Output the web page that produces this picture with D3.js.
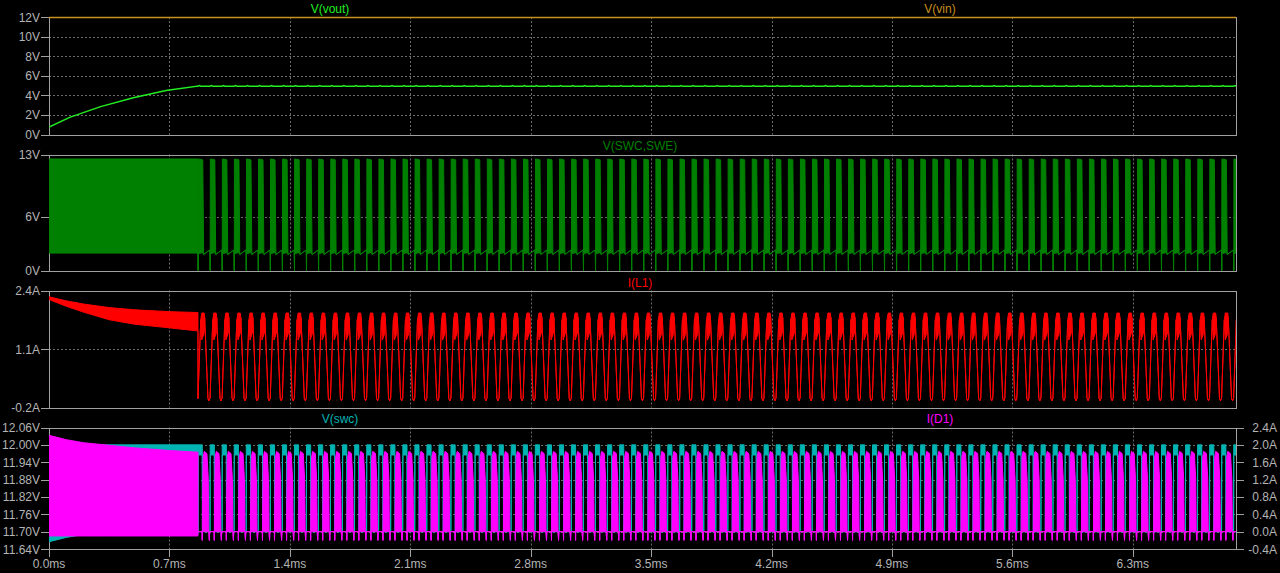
<!DOCTYPE html>
<html>
<head>
<meta charset="utf-8">
<script src="https://cdn.jsdelivr.net/npm/d3@7"></script>
<style>
  html, body { margin: 0; padding: 0; background: #000; }
  svg { display: block; }
  text { font-family: "Liberation Sans", Arial, sans-serif; font-size: 12px; }
</style>
</head>
<body>
<svg id="plot" width="1280" height="573"></svg>
<script>
// ---------- DATA ----------
const timeTicks = [0, 0.7, 1.4, 2.1, 2.8, 3.5, 4.2, 4.9, 5.6, 6.3];
const timeEnd = 6.9;           // ms
const switchStart = 0.866;     // ms, where the regulator starts pulsing
const period = 0.07;           // ms, one switching cycle

// pane 1
const voutStartup = [[0, 0.75], [0.12, 1.75], [0.3, 2.85], [0.49, 3.75], [0.68, 4.5], [0.866, 4.95]];
const voutCycle = [[0, 4.94], [8, 5.0], [16, 4.94], [69, 4.94]];           // µs, V
const vinLevel = 12;
const pane1Ticks = [0, 2, 4, 6, 8, 10, 12];

// pane 2: V(SWC,SWE) [t, low, high]
const vsweStartup = [[0, 1.95, 12.5], [0.866, 1.95, 12.5]];
const vsweCycle = [[0, 1.7, 1.7], [1, 0.0, 0.0], [2, 1.9, 12.5], [28, 2.0, 12.4], [33, 1.8, 1.8], [69, 2.3, 2.3]];
const pane2Ticks = [0, 6, 13];

// pane 3: I(L1)
const il1Startup = [[0, 2.2, 2.26], [0.1, 2.05, 2.17], [0.2, 1.92, 2.1], [0.35, 1.75, 2.02],
                    [0.5, 1.65, 1.97], [0.7, 1.57, 1.93], [0.866, 1.5, 1.91]];
const il1Cycle = [[0, 0, 0], [16, 1.75, 1.75], [22, 1.3, 1.9], [36, 1.45, 1.9], [39, 1.8, 1.8],
                  [58, 0, 0], [64, -0.05, -0.05], [69, 0, 0]];
const pane3Ticks = [-0.2, 1.1, 2.4];

// pane 4: V(swc) left axis, I(D1) right axis
const vswcStartup = [[0, 11.665, 12.0], [0.1, 11.68, 12.0], [0.2, 11.69, 12.0], [0.866, 11.69, 12.0]];
const vswcCycle = [[0, 11.70, 11.70], [1, 11.965, 12.0], [25, 11.965, 12.0], [26, 11.70, 11.70], [69, 11.70, 11.70]];
const id1Startup = [[0, -0.1, 2.22], [0.1, -0.1, 2.12], [0.2, -0.1, 2.05], [0.35, -0.1, 1.99],
                    [0.5, -0.1, 1.93], [0.7, -0.1, 1.87], [0.866, -0.1, 1.83]];
const id1Cycle = [[0, 0, 0], [24, 0, 0], [25, -0.2, -0.2], [26, 0, 0.5], [30, 0, 1.7], [36, 0, 1.85],
                  [52, 0, 1.8], [60, 0, 1.2], [63, 0, 0], [66, -0.2, -0.2], [68, 0, 0]];
const pane4LeftTicks = [11.64, 11.70, 11.76, 11.82, 11.88, 11.94, 12.00, 12.06];
const pane4RightTicks = [-0.4, 0.0, 0.4, 0.8, 1.2, 1.6, 2.0, 2.4];

// ---------- LAYOUT ----------
const svg = d3.select("#plot");
const left = 49, right = 1236;
const frameColor = "#a0a0a0";
const gridColor = "#6a6a6a";
const labelColor = "#b4b4b4";

const x = d3.scaleLinear().domain([0, timeEnd]).range([left, right]);

const panes = [
  { top: 17, bottom: 134.5, domain: [0, 12] },
  { top: 154.5, bottom: 270.5, domain: [0, 13] },
  { top: 290.5, bottom: 407.5, domain: [-0.2, 2.4] },
  { top: 427.5, bottom: 549, domain: [11.64, 12.06] }
];
panes.forEach(p => p.y = d3.scaleLinear().domain(p.domain).range([p.bottom, p.top]));
const yRight4 = d3.scaleLinear().domain([-0.4, 2.4]).range([panes[3].bottom, panes[3].top]);

// build a waveform: startup part (ms) followed by repeated cycle (µs)
function build(startup, cycle) {
  const pts = startup.map(d => ({ t: d[0], lo: d[1], hi: d.length > 2 ? d[2] : d[1] }));
  for (let t0 = switchStart; t0 < timeEnd; t0 += period) {
    cycle.forEach(c => pts.push({ t: t0 + c[0] / 1000, lo: c[1], hi: c.length > 2 ? c[2] : c[1] }));
  }
  return pts;
}

const defs = svg.append("defs");
panes.forEach((p, i) => {
  defs.append("clipPath").attr("id", "clip" + i)
    .append("rect")
    .attr("x", left).attr("y", p.top - 1)
    .attr("width", right - left).attr("height", p.bottom - p.top + 2);
});

// ---------- GRID + FRAMES ----------
panes.forEach((p, i) => {
  const g = svg.append("g");

  g.selectAll(".vgrid")
    .data(timeTicks.slice(1))
    .enter().append("line")
    .attr("x1", d => Math.round(x(d)) + 0.5).attr("x2", d => Math.round(x(d)) + 0.5)
    .attr("y1", p.top).attr("y2", p.bottom)
    .attr("stroke", gridColor).attr("stroke-dasharray", "2,2");

  const ticks = [pane1Ticks, pane2Ticks, pane3Ticks, pane4LeftTicks][i];
  g.selectAll(".hgrid")
    .data(ticks.slice(1, -1))
    .enter().append("line")
    .attr("x1", left).attr("x2", right)
    .attr("y1", d => Math.round(p.y(d)) + 0.5).attr("y2", d => Math.round(p.y(d)) + 0.5)
    .attr("stroke", gridColor).attr("stroke-dasharray", "2,2");

  g.append("rect")
    .attr("x", left + 0.5).attr("y", Math.round(p.top) + 0.5)
    .attr("width", right - left).attr("height", Math.round(p.bottom) - Math.round(p.top))
    .attr("fill", "none").attr("stroke", frameColor);

  // left axis
  const fmt = [d => d + "V", d => d + "V", d => d.toFixed(1) + "A", d => d.toFixed(2) + "V"][i];
  const ax = g.selectAll(".lt").data(ticks).enter();
  ax.append("line")
    .attr("x1", left - 8).attr("x2", left)
    .attr("y1", d => Math.round(p.y(d)) + 0.5).attr("y2", d => Math.round(p.y(d)) + 0.5)
    .attr("stroke", frameColor);
  ax.append("text")
    .attr("x", left - 9).attr("y", d => p.y(d) + 4.5)
    .attr("text-anchor", "end").attr("fill", labelColor)
    .text(fmt);
});

// right axis pane 4
const rg = svg.append("g").selectAll(".rt").data(pane4RightTicks).enter();
rg.append("line")
  .attr("x1", right).attr("x2", right + 8)
  .attr("y1", d => Math.round(yRight4(d)) + 0.5).attr("y2", d => Math.round(yRight4(d)) + 0.5)
  .attr("stroke", frameColor);
rg.append("text")
  .attr("x", 1277).attr("y", d => yRight4(d) + 4.5)
  .attr("text-anchor", "end").attr("fill", labelColor)
  .text(d => d.toFixed(1) + "A");

// x axis
const xg = svg.append("g").selectAll(".xt").data(timeTicks).enter();
xg.append("line")
  .attr("x1", d => Math.round(x(d)) + 0.5).attr("x2", d => Math.round(x(d)) + 0.5)
  .attr("y1", panes[3].bottom).attr("y2", panes[3].bottom + 8)
  .attr("stroke", frameColor);
xg.append("text")
  .attr("x", d => x(d)).attr("y", 568)
  .attr("text-anchor", "middle").attr("fill", labelColor)
  .text(d => d.toFixed(1) + "ms");

// ---------- TRACES ----------
function drawBand(pts, yScale, color, clipIdx) {
  const area = d3.area()
    .x(d => x(d.t))
    .y0(d => yScale(d.lo))
    .y1(d => yScale(d.hi));
  svg.append("path")
    .datum(pts)
    .attr("clip-path", `url(#clip${clipIdx})`)
    .attr("d", area)
    .attr("fill", color)
    .attr("stroke", color)
    .attr("stroke-width", 1)
    .attr("stroke-linejoin", "miter");
}

// pane 1
const p1 = panes[0];
const voutPts = build(voutStartup, voutCycle);
svg.append("path")
  .datum(voutPts)
  .attr("clip-path", "url(#clip0)")
  .attr("d", d3.line().x(d => x(d.t)).y(d => p1.y(d.hi)))
  .attr("fill", "none").attr("stroke", "#22ee22").attr("stroke-width", 1.5);
svg.append("line")
  .attr("x1", left).attr("x2", right)
  .attr("y1", Math.round(p1.y(vinLevel)) + 0.5).attr("y2", Math.round(p1.y(vinLevel)) + 0.5)
  .attr("stroke", "#c8901e").attr("stroke-width", 1.5);

// pane 2
drawBand(build(vsweStartup, vsweCycle), panes[1].y, "#008000", 1);
// pane 3
drawBand(build(il1Startup, il1Cycle), panes[2].y, "#ff0000", 2);
// pane 4
drawBand(build(vswcStartup, vswcCycle), panes[3].y, "#00b4b4", 3);
drawBand(build(id1Startup, id1Cycle), yRight4, "#ff00ff", 3);

// ---------- TITLES ----------
const titles = [
  { text: "V(vout)", x: 330, y: 13, color: "#22ee22" },
  { text: "V(vin)", x: 940, y: 13, color: "#c8901e" },
  { text: "V(SWC,SWE)", x: 640, y: 150, color: "#008000" },
  { text: "I(L1)", x: 640, y: 287, color: "#ff0000" },
  { text: "V(swc)", x: 340, y: 423, color: "#00b4b4" },
  { text: "I(D1)", x: 940, y: 423, color: "#ff00ff" }
];
svg.selectAll(".title")
  .data(titles)
  .enter().append("text")
  .attr("x", d => d.x).attr("y", d => d.y)
  .attr("text-anchor", "middle")
  .attr("fill", d => d.color)
  .text(d => d.text);
</script>
</body>
</html>
